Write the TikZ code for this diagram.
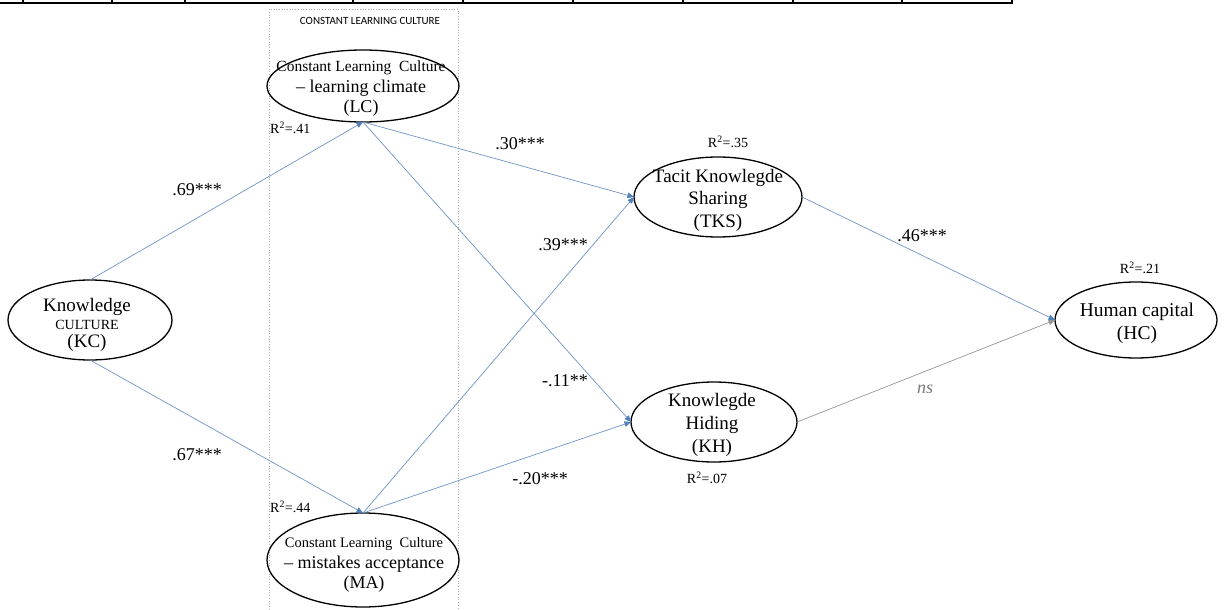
\documentclass[tikz,border=0pt]{standalone}
\usepackage{fontspec}
\setmainfont{Liberation Serif}
\newfontfamily\calibrifont{Carlito}
\usetikzlibrary{shapes.geometric,arrows.meta}
\definecolor{edgeblue}{RGB}{112,148,196}
\definecolor{tipblue}{RGB}{79,129,189}
\definecolor{nsgray}{RGB}{150,150,150}
\definecolor{nstext}{RGB}{120,120,120}
\definecolor{boxgray}{RGB}{170,170,170}
\begin{document}
\begin{tikzpicture}[x=1pt,y=-1pt,
  ell/.style={draw=black,line width=1.3pt,ellipse,inner sep=0pt,outer sep=0pt},
  txt/.style={align=center,inner sep=0pt},
  lab/.style={inner sep=0pt,font=\fontsize{18}{20}\selectfont},
  rsq/.style={inner sep=0pt,font=\fontsize{14}{16}\selectfont},
  conn/.style={draw=edgeblue,line width=0.7pt,-{Triangle[length=6.5pt,width=5.5pt,color=tipblue]}},
  connns/.style={draw=nsgray,line width=0.7pt,-{Triangle[length=6.5pt,width=5.5pt,color=nsgray]}},
  tablerule/.style={draw=black,line width=2pt},
  tabletick/.style={draw=black,line width=1.2pt}
]
\useasboundingbox (0,0) rectangle (1224,610);
% fragment of a table at the top
\draw[tablerule] (0,3) -- (1013,3);
\foreach \x in {23,112,185,353,463,573,683,793,902,1012}
  \draw[tabletick] (\x,0) -- (\x,3.5);
% dotted frame
\draw[boxgray,dotted,line width=0.7pt] (269,612) -- (269,9) -- (458,9) -- (458,612);
\node[font=\calibrifont\fontsize{11}{13}\selectfont,inner sep=0pt] (clc) at (370,21) {CONSTANT LEARNING CULTURE};
% ellipses
\node[ell,minimum width=164pt,minimum height=80pt] (KC) at (90,320) {};
\node[ell,minimum width=192pt,minimum height=72pt] (LC) at (363,86) {};
\node[ell,minimum width=192pt,minimum height=94pt] (MA) at (363,560) {};
\node[ell,minimum width=168pt,minimum height=80pt] (TKS) at (718,197) {};
\node[ell,minimum width=166pt,minimum height=80pt] (KH) at (714,422) {};
\node[ell,minimum width=162pt,minimum height=76pt] (HC) at (1136,320) {};
% texts
\node[txt,font=\fontsize{19}{18}\selectfont] (KCt) at (87,325) {Knowledge\\{\fontsize{14}{14}\selectfont CULTURE}\\(KC)};
\node[txt,font=\fontsize{18}{20.5}\selectfont] (LCt) at (361,89) {{\fontsize{15.5}{15}\selectfont Constant Learning\ \ Culture}\\– learning climate\\(LC)};
\node[txt,font=\fontsize{18}{20.5}\selectfont] (MAt) at (364,565) {{\fontsize{14.5}{15}\selectfont Constant Learning\ \ Culture}\\– mistakes acceptance\\(MA)};
\node[txt,font=\fontsize{19}{22.5}\selectfont] (TKSt) at (718,200) {Tacit Knowlegde\\Sharing\\(TKS)};
\node[txt,font=\fontsize{19}{23}\selectfont] (KHt) at (712,425) {Knowlegde\\Hiding\\(KH)};
\node[txt,font=\fontsize{19.5}{23}\selectfont] (HCt) at (1137,323) {Human capital\\(HC)};
% R squared
\node[rsq,anchor=west] (r41) at (270,128) {R\textsuperscript{2}=.41};
\node[rsq,anchor=west] (r44) at (270,507) {R\textsuperscript{2}=.44};
\node[rsq] (r35) at (728,142) {R\textsuperscript{2}=.35};
\node[rsq] (r07) at (707,478) {R\textsuperscript{2}=.07};
\node[rsq] (r21) at (1140,268) {R\textsuperscript{2}=.21};
% connectors
\draw[conn] (KC.north) -- (LC.south);
\draw[conn] (KC.south) -- (MA.north);
\draw[conn] (LC.south) -- (TKS.west);
\draw[conn] (LC.south) -- (KH.west);
\draw[conn] (MA.north) -- (TKS.west);
\draw[conn] (MA.north) -- (KH.west);
\draw[connns] (KH.east) -- (HC.west);
\draw[conn] (TKS.east) -- (HC.west);
% path coefficients
\node[lab] (l69) at (197,190) {.69***};
\node[lab] (l67) at (197,455) {.67***};
\node[lab] (l30) at (520,144) {.30***};
\node[lab] (l39) at (563,245) {.39***};
\node[lab] (l11) at (565,381) {-.11**};
\node[lab] (l20) at (540,479) {-.20***};
\node[lab] (l46) at (922,236) {.46***};
\node[lab,text=nstext] (lns) at (925,389) {\textit{ns}};
\end{tikzpicture}
\end{document}
